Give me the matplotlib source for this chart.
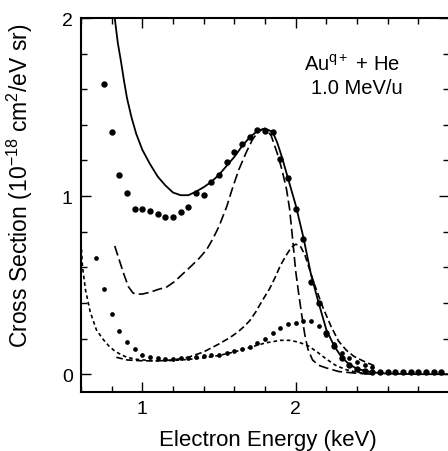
import matplotlib
matplotlib.use("Agg")
import matplotlib.pyplot as plt
from matplotlib.ticker import MultipleLocator

plt.rcParams['font.family'] = ['Liberation Sans', 'DejaVu Sans']
plt.rcParams['mathtext.fontset'] = 'custom'
plt.rcParams['mathtext.rm'] = 'Liberation Sans'
plt.rcParams['mathtext.it'] = 'Liberation Sans:italic'

# experiment (big dots)
exp_x = [0.75, 0.80, 0.85, 0.90, 0.95, 1.00, 1.05, 1.10, 1.15, 1.20, 1.25, 1.30,
         1.35, 1.40, 1.45, 1.50, 1.55, 1.60, 1.65, 1.70, 1.75, 1.80, 1.85, 1.90,
         1.95, 2.00, 2.05, 2.10, 2.15, 2.20, 2.25, 2.30, 2.35, 2.40, 2.45, 2.50,
         2.55, 2.60, 2.65, 2.70, 2.75, 2.80, 2.85, 2.90, 2.95]
exp_y = [1.63, 1.36, 1.12, 1.02, 0.93, 0.93, 0.915, 0.90, 0.88, 0.88, 0.91, 0.94,
         1.02, 1.005, 1.08, 1.12, 1.19, 1.25, 1.29, 1.33, 1.37, 1.365, 1.36, 1.21,
         1.10, 0.93, 0.76, 0.52, 0.40, 0.23, 0.157, 0.09, 0.05, 0.027, 0.018, 0.015,
         0.015, 0.015, 0.015, 0.015, 0.015, 0.015, 0.015, 0.015, 0.015]

# total theory (solid)
tot_x = [0.80, 0.82, 0.84, 0.86, 0.88, 0.90, 0.93, 0.96, 1.00, 1.05, 1.10, 1.15,
         1.20, 1.25, 1.30, 1.35, 1.40, 1.45, 1.50, 1.55, 1.60, 1.65, 1.70, 1.75,
         1.80, 1.85, 1.88, 1.91, 1.95, 2.00, 2.05, 2.10, 2.15, 2.20, 2.25, 2.30,
         2.35, 2.40, 2.50, 2.60, 2.80, 3.00]
tot_y = [2.15, 2.00, 1.86, 1.76, 1.65, 1.55, 1.44, 1.35, 1.26, 1.18, 1.11, 1.06,
         1.02, 1.005, 1.005, 1.025, 1.05, 1.08, 1.12, 1.17, 1.22, 1.28, 1.33, 1.365,
         1.38, 1.36, 1.30, 1.22, 1.10, 0.95, 0.77, 0.56, 0.40, 0.25, 0.16, 0.095,
         0.055, 0.03, 0.01, 0.003, 0.0, 0.0]

# long dash
ld_x = [0.82, 0.85, 0.88, 0.91, 0.94, 0.97, 1.00, 1.05, 1.10, 1.16, 1.21, 1.26,
        1.31, 1.37, 1.42, 1.46, 1.50, 1.55, 1.59, 1.63, 1.68, 1.72, 1.76, 1.80,
        1.84, 1.88, 1.91, 1.94, 1.96, 1.98, 2.00, 2.02, 2.04, 2.06, 2.08, 2.11,
        2.15, 2.20, 2.28, 2.40, 2.50]
ld_y = [0.72, 0.64, 0.56, 0.49, 0.455, 0.45, 0.45, 0.46, 0.475, 0.49, 0.52, 0.56,
        0.60, 0.65, 0.70, 0.76, 0.83, 0.94, 1.05, 1.15, 1.25, 1.32, 1.365, 1.38,
        1.34, 1.24, 1.15, 1.04, 0.93, 0.76, 0.58, 0.45, 0.33, 0.22, 0.14, 0.08,
        0.05, 0.035, 0.015, 0.005, 0.0]

# medium dash
md_x = [0.83, 0.90, 1.00, 1.10, 1.20, 1.30, 1.40, 1.50, 1.57, 1.62, 1.66, 1.70,
        1.74, 1.78, 1.83, 1.87, 1.90, 1.94, 1.97, 2.00, 2.03, 2.06, 2.09, 2.12,
        2.15, 2.18, 2.23, 2.28, 2.33, 2.38, 2.45, 2.52]
md_y = [0.095, 0.08, 0.075, 0.075, 0.08, 0.095, 0.125, 0.17, 0.205, 0.235, 0.265, 0.30,
        0.35, 0.41, 0.48, 0.55, 0.61, 0.67, 0.71, 0.73, 0.72, 0.67, 0.59, 0.51,
        0.44, 0.37, 0.27, 0.185, 0.135, 0.10, 0.07, 0.045]

# short dash
sd_x = [0.60, 0.61, 0.63, 0.66, 0.70, 0.74, 0.78, 0.82, 0.86, 0.90, 0.95, 1.00,
        1.10, 1.20, 1.30, 1.40, 1.50, 1.60, 1.70, 1.80, 1.90, 1.96, 2.02, 2.08,
        2.14, 2.20, 2.26, 2.33, 2.40, 2.50]
sd_y = [0.74, 0.60, 0.47, 0.35, 0.25, 0.20, 0.16, 0.13, 0.11, 0.095, 0.085, 0.08,
        0.075, 0.077, 0.083, 0.092, 0.105, 0.125, 0.15, 0.175, 0.19, 0.19, 0.18, 0.16,
        0.125, 0.085, 0.05, 0.025, 0.01, 0.003]

# small dots
sm_x = [0.70, 0.75, 0.80, 0.85, 0.90, 0.95, 1.00, 1.05, 1.10, 1.15, 1.20, 1.25,
        1.30, 1.35, 1.40, 1.45, 1.50, 1.55, 1.60, 1.65, 1.70, 1.75, 1.80, 1.85,
        1.90, 1.95, 2.00, 2.05, 2.10, 2.15, 2.20, 2.25, 2.30, 2.35, 2.40, 2.45, 2.50]
sm_y = [0.65, 0.48, 0.34, 0.24, 0.18, 0.14, 0.11, 0.095, 0.09, 0.088, 0.088, 0.09,
        0.093, 0.097, 0.10, 0.105, 0.11, 0.12, 0.13, 0.14, 0.155, 0.175, 0.20, 0.23,
        0.26, 0.28, 0.29, 0.30, 0.30, 0.27, 0.22, 0.17, 0.12, 0.09, 0.067, 0.05, 0.04]

fig = plt.figure(figsize=(4.48, 4.52), dpi=100)
ax = fig.add_axes([81 / 448, 59 / 452, 368 / 448, 374 / 452])

ax.plot(tot_x, tot_y, color='black', lw=1.3)
ax.plot(ld_x, ld_y, color='black', lw=1.2, dashes=(6, 2.5))
ax.plot(md_x, md_y, color='black', lw=1.2, dashes=(4, 2))
ax.plot(sd_x, sd_y, color='black', lw=1.2, dashes=(2.2, 1.8))
ax.plot(sm_x, sm_y, 'o', color='black', ms=3.4, mew=0)
ax.plot(exp_x, exp_y, 'o', color='black', ms=4.6, mew=0)

ax.set_xlim(0.6, 3.0)
ax.set_ylim(-0.1, 2.0)
ax.set_xticks([1, 2, 3], ['1', '2', ''])
ax.xaxis.set_minor_locator(MultipleLocator(0.2))
ax.set_yticks([0, 1, 2], ['0', '1', '2'])
ax.yaxis.set_minor_locator(MultipleLocator(0.2))
ax.tick_params(which='both', direction='in', top=True, right=True, width=1.0,
               labelsize=14, pad=6)
ax.tick_params(which='major', length=7)
ax.tick_params(which='minor', length=4.5)
for s in ax.spines.values():
    s.set_linewidth(1.5)

ax.text(2.37, 1.74, r'Au$^{\mathrm{q+}}$ + He', fontsize=14.5, ha='center', va='center')
ax.text(2.40, 1.61, '1.0 MeV/u', fontsize=14.5, ha='center', va='center')

ax.set_xlabel('Electron Energy (keV)', fontsize=16)
ax.set_ylabel('Cross Section (10$^{-18}$ cm$^2$/eV sr)', fontsize=16.5)
ax.xaxis.set_label_coords(0.508, -0.10)
ax.yaxis.set_label_coords(-0.125, 0.553)

fig.savefig('out.png', dpi=100)
